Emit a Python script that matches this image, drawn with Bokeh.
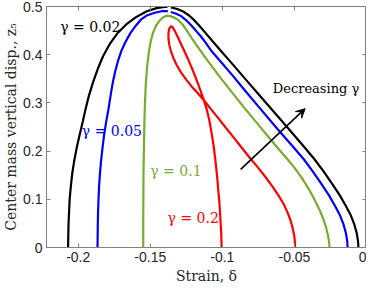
from bokeh.plotting import figure
from bokeh.models import LinearAxis, FixedTicker, Arrow, VeeHead, Label, Range1d
from bokeh.embed import file_html
from bokeh.resources import INLINE

# ---- data ----
x_ticks = [-0.2, -0.15, -0.1, -0.05, 0]
x_tick_labels = ["-0.2", "-0.15", "-0.1", "-0.05", "0"]
y_ticks = [0, 0.1, 0.2, 0.3, 0.4, 0.5]
y_tick_labels = ["0", "0.1", "0.2", "0.3", "0.4", "0.5"]

# gamma = 0.02 (black): left piece up to the top, small break, right piece down
g002_a_x = [-0.2070, -0.2069, -0.2067, -0.2063, -0.2059, -0.2051, -0.2041, -0.2027, -0.2010,
            -0.1990, -0.1969, -0.1949, -0.1925, -0.1898, -0.1864, -0.1827, -0.1782, -0.1728,
            -0.1667, -0.1599, -0.1524, -0.1456, -0.1401, -0.1381]
g002_a_y = [0.0000, 0.0239, 0.0504, 0.0769, 0.1014, 0.1280, 0.1545, 0.1810, 0.2076,
            0.2341, 0.2606, 0.2871, 0.3157, 0.3422, 0.3708, 0.3973, 0.4218, 0.4443,
            0.4627, 0.4780, 0.4902, 0.4967, 0.4990, 0.4990]
g002_b_x = [-0.1357, -0.1313, -0.1272, -0.1231, -0.1197, -0.1163, -0.1129, -0.1075, -0.1014,
            -0.0925, -0.0846, -0.0755, -0.0619, -0.0517, -0.0429, -0.0361, -0.0299, -0.0238,
            -0.0184, -0.0143, -0.0109, -0.0085, -0.0068, -0.0059, -0.0056]
g002_b_y = [0.4982, 0.4949, 0.4896, 0.4814, 0.4722, 0.4612, 0.4494, 0.4305, 0.4094,
            0.3789, 0.3514, 0.3202, 0.2733, 0.2381, 0.2076, 0.1831, 0.1586, 0.1320,
            0.1076, 0.0861, 0.0667, 0.0484, 0.0300, 0.0137, 0.0000]

# gamma = 0.05 (blue)
g005_a_x = [-0.1866, -0.1865, -0.1864, -0.1862, -0.1859, -0.1855, -0.1849, -0.1841, -0.1831,
            -0.1820, -0.1806, -0.1790, -0.1773, -0.1760, -0.1744, -0.1724, -0.1701, -0.1673,
            -0.1639, -0.1602, -0.1561, -0.1520, -0.1469, -0.1422, -0.1378]
g005_a_y = [0.0000, 0.0239, 0.0504, 0.0769, 0.1014, 0.1280, 0.1545, 0.1810, 0.2076,
            0.2341, 0.2606, 0.2871, 0.3198, 0.3422, 0.3647, 0.3871, 0.4076, 0.4259,
            0.4443, 0.4596, 0.4739, 0.4820, 0.4871, 0.4902, 0.4906]
g005_b_x = [-0.1357, -0.1320, -0.1286, -0.1252, -0.1218, -0.1184, -0.1150, -0.1116, -0.1075,
            -0.1014, -0.0925, -0.0846, -0.0755, -0.0619, -0.0505, -0.0435, -0.0374, -0.0313,
            -0.0259, -0.0218, -0.0184, -0.0160, -0.0143, -0.0134, -0.0131]
g005_b_y = [0.4886, 0.4851, 0.4800, 0.4718, 0.4616, 0.4500, 0.4382, 0.4249, 0.4076,
            0.3863, 0.3555, 0.3269, 0.2943, 0.2463, 0.2076, 0.1831, 0.1586, 0.1320,
            0.1076, 0.0861, 0.0667, 0.0484, 0.0300, 0.0137, 0.0000]

# gamma = 0.1 (green)
g01_x = [-0.1549, -0.1549, -0.1548, -0.1547, -0.1544, -0.1541, -0.1537, -0.1531, -0.1522,
         -0.1510, -0.1497, -0.1480, -0.1459, -0.1435, -0.1412, -0.1388, -0.1361, -0.1333,
         -0.1306, -0.1279, -0.1252, -0.1218, -0.1184, -0.1129, -0.1075, -0.1014, -0.0925,
         -0.0846, -0.0755, -0.0687, -0.0619, -0.0551, -0.0503, -0.0449, -0.0401, -0.0361,
         -0.0327, -0.0299, -0.0279, -0.0265, -0.0259, -0.0256]
g01_y = [0.0000, 0.0545, 0.1055, 0.1565, 0.2076, 0.2586, 0.2994, 0.3402, 0.3749,
         0.4055, 0.4280, 0.4463, 0.4606, 0.4708, 0.4773, 0.4810, 0.4800, 0.4769,
         0.4718, 0.4637, 0.4524, 0.4371, 0.4218, 0.3984, 0.3769, 0.3524, 0.3188,
         0.2892, 0.2565, 0.2320, 0.2076, 0.1841, 0.1667, 0.1443, 0.1218, 0.0994,
         0.0790, 0.0586, 0.0402, 0.0218, 0.0096, 0.0000]

# gamma = 0.2 (red): a loop that starts and ends on the horizontal axis
g02_x = [-0.1005, -0.1008, -0.1014, -0.1020, -0.1029, -0.1038, -0.1049, -0.1061, -0.1075,
         -0.1091, -0.1109, -0.1129, -0.1152, -0.1177, -0.1204, -0.1231, -0.1259, -0.1286,
         -0.1310, -0.1330, -0.1344, -0.1356,
         -0.1369, -0.1374, -0.1374, -0.1369, -0.1357, -0.1340, -0.1316, -0.1286, -0.1248,
         -0.1207, -0.1167, -0.1129, -0.1082, -0.1027, -0.0973, -0.0918, -0.0864, -0.0810,
         -0.0755, -0.0701, -0.0653, -0.0612, -0.0575, -0.0548, -0.0527, -0.0512, -0.0501,
         -0.0497, -0.0495]
g02_y = [0.0000, 0.0300, 0.0606, 0.0912, 0.1218, 0.1524, 0.1831, 0.2116, 0.2382,
         0.2647, 0.2871, 0.3061, 0.3259, 0.3463, 0.3667, 0.3861, 0.4045, 0.4218,
         0.4371, 0.4494, 0.4565, 0.4592,
         0.4535, 0.4453, 0.4341, 0.4218, 0.4076, 0.3933, 0.3780, 0.3627, 0.3473,
         0.3320, 0.3188, 0.3061, 0.2882, 0.2678, 0.2473, 0.2269, 0.2065, 0.1861,
         0.1667, 0.1463, 0.1269, 0.1086, 0.0902, 0.0729, 0.0565, 0.0402, 0.0239,
         0.0116, 0.0000]

# annotation texts and anchor points (data units)
label_texts = ["γ = 0.02", "γ = 0.05", "γ = 0.1", "γ = 0.2", "Decreasing γ"]
label_x = [-0.2125, -0.1975, -0.1500, -0.1380, -0.0650]
label_y = [0.4580, 0.2420, 0.1590, 0.0620, 0.3300]
label_sizes = ["14px", "14px", "14px", "14px", "13px"]
label_colors = ["#000000", "#0000FF", "#77AC30", "#FF0000", "#000000"]
arrow_start = (-0.0873, 0.162)
arrow_end = (-0.0426, 0.288)

# ---- figure ----
AX = "#808080"
TXT = "#262626"
SERIF = "DejaVu Serif"
SANS = "Liberation Sans"

p = figure(width=366, height=286, output_backend="svg", toolbar_location=None,
           x_range=Range1d(-0.222, 0.0), y_range=Range1d(0.0, 0.5),
           min_border_left=0, min_border_right=0, min_border_top=6, min_border_bottom=0)
p.background_fill_color = "white"
p.border_fill_color = "white"
p.outline_line_color = AX
p.xgrid.visible = False
p.ygrid.visible = False

def style_axis(ax, ticks, labels, show_labels=True):
    ax.ticker = FixedTicker(ticks=ticks)
    ax.minor_tick_line_color = None
    ax.major_tick_in = 4
    ax.major_tick_out = 0
    ax.major_tick_line_color = AX
    ax.axis_line_color = AX
    ax.major_label_text_font = SANS
    ax.major_label_text_color = TXT
    if show_labels:
        ax.major_label_overrides = {t: l for t, l in zip(ticks, labels)}
        ax.major_label_text_font_size = "14px"
        ax.major_label_standoff = 4
    else:
        ax.major_label_overrides = {t: "" for t in ticks}
        ax.major_label_text_font_size = "1px"
        ax.major_label_standoff = 0

style_axis(p.xaxis[0], x_ticks, x_tick_labels)
style_axis(p.yaxis[0], y_ticks, y_tick_labels)
p.xaxis[0].axis_label = "Strain, δ"
p.yaxis[0].axis_label = "Center mass vertical disp., z₅"
for ax in (p.xaxis[0], p.yaxis[0]):
    ax.axis_label_text_font = SERIF
    ax.axis_label_text_font_style = "normal"
    ax.axis_label_text_font_size = "14px"
    ax.axis_label_text_color = TXT
p.xaxis[0].axis_label_standoff = 3
p.yaxis[0].axis_label_standoff = 1

top = LinearAxis()
style_axis(top, x_ticks, x_tick_labels, show_labels=False)
p.add_layout(top, "above")
right = LinearAxis()
style_axis(right, y_ticks, y_tick_labels, show_labels=False)
p.add_layout(right, "right")

LW = 2.2
p.line(g002_a_x, g002_a_y, line_color="#000000", line_width=LW)
p.line(g002_b_x, g002_b_y, line_color="#000000", line_width=LW)
p.line(g005_a_x, g005_a_y, line_color="#0000FF", line_width=LW)
p.line(g005_b_x, g005_b_y, line_color="#0000FF", line_width=LW)
p.line(g01_x, g01_y, line_color="#77AC30", line_width=LW)
p.line(g02_x, g02_y, line_color="#FF0000", line_width=LW)

for t, x, y, s, c in zip(label_texts, label_x, label_y, label_sizes, label_colors):
    p.add_layout(Label(x=x, y=y, text=t, text_color=c, text_font=SERIF,
                       text_font_size=s, text_baseline="middle", text_align="left"))

p.add_layout(Arrow(x_start=arrow_start[0], y_start=arrow_start[1],
                   x_end=arrow_end[0], y_end=arrow_end[1],
                   line_color="#000000", line_width=1.6,
                   end=VeeHead(size=9, fill_color="#000000", line_color="#000000")))

open("out.html", "w").write(file_html(p, INLINE))
